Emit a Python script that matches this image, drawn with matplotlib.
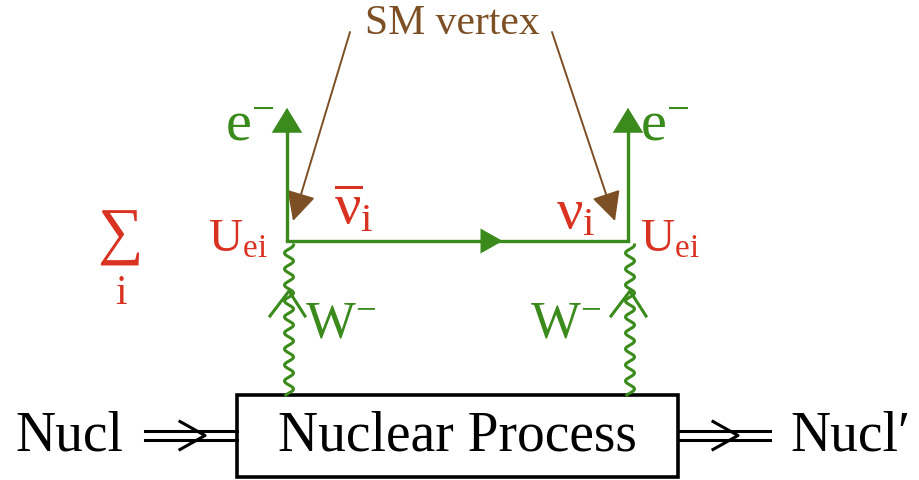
import numpy as np
import matplotlib.pyplot as plt
from matplotlib.patches import Rectangle, FancyArrowPatch

green = '#3a8a1c'
red = '#d93220'
brown = '#7c4f24'
black = '#000000'

plt.rcParams.update({
    'font.family': 'Liberation Serif',
    'mathtext.fontset': 'custom',
    'mathtext.rm': 'Liberation Serif',
    'mathtext.it': 'Liberation Serif',
    'mathtext.bf': 'Liberation Serif',
})

# diagram geometry in pixel units (y grows downwards)
vertex_x = [287, 628]
vertex_y = 242
lepton_top = 106
box = [237, 396, 678, 478]          # left, top, right, bottom
nucl_y = [432, 441]                 # the two rails of the double lines
in_rail = [145, 237]
out_rail = [678, 770]
sm_label = (452, 24)
sm_tips = [(293, 222), (615, 222)]
sm_tails = [(350, 33), (552, 33)]

fig = plt.figure(figsize=(9.2, 4.81), dpi=100)
ax = fig.add_axes([0, 0, 1, 1])
ax.set_xlim(0, 920)
ax.set_ylim(481, 0)
ax.axis('off')

# electron lines with arrowheads
for x in vertex_x:
    ax.plot([x, x], [vertex_y, lepton_top + 18], color=green, lw=2.4,
            solid_capstyle='butt')
    ax.add_patch(FancyArrowPatch((x, lepton_top + 22), (x, lepton_top),
                                 arrowstyle='-|>,head_length=0.9,head_width=0.55',
                                 mutation_scale=20, color=green, lw=0))

# neutrino propagator
ax.plot(vertex_x, [vertex_y, vertex_y], color=green, lw=2.4)
mid = 0.5 * (vertex_x[0] + vertex_x[1]) + 40
ax.add_patch(FancyArrowPatch((mid - 12, vertex_y), (mid + 8, vertex_y),
                             arrowstyle='-|>,head_length=0.8,head_width=0.45',
                             mutation_scale=20, color=green, lw=0))

# W wavy lines
for x in vertex_x:
    yy = np.linspace(vertex_y + 4, box[1], 400)
    xx = x + 2 + 4.5 * np.sin((yy - vertex_y) / 16.0 * 2 * np.pi)
    ax.plot(xx, yy, color=green, lw=2.2)
    ax.plot([x - 17, x + 2, x + 18], [317, 292, 317], color=green, lw=2.2)

# nuclear box
ax.add_patch(Rectangle((box[0], box[1]), box[2] - box[0], box[3] - box[1],
                       fill=False, ec=black, lw=2.6))

# double lines
for rail in (in_rail, out_rail):
    for y in nucl_y:
        ax.plot(rail, [y, y], color=black, lw=2.2)
for tip in (205, 738):
    yc = 0.5 * (nucl_y[0] + nucl_y[1])
    ax.plot([tip - 25, tip, tip - 25], [yc - 14, yc, yc + 14], color=black, lw=2.2)

# SM vertex annotations
ax.text(sm_label[0], sm_label[1], 'SM vertex', color=brown, fontsize=30,
        ha='center', va='center')
for tail, tip in zip(sm_tails, sm_tips):
    ax.add_patch(FancyArrowPatch(tail, tip,
                                 arrowstyle='-|>,head_length=1.0,head_width=0.5',
                                 mutation_scale=18, color=brown, lw=1.4,
                                 shrinkA=0, shrinkB=0))

# labels
ax.text(15, 437, 'Nucl', fontsize=40, ha='left', va='center')
ax.text(457, 437, 'Nuclear Process', fontsize=40, ha='center', va='center')
ax.text(790, 437, 'Nucl\u2032', fontsize=40, ha='left', va='center')

ax.text(250, 126, r'e$^{\mathregular{-}}$', color=green, fontsize=42, ha='center', va='center')
ax.text(665, 126, r'e$^{\mathregular{-}}$', color=green, fontsize=42, ha='center', va='center')

ax.text(238, 240, r'U$_{\mathregular{ei}}$', color=red, fontsize=34, ha='center', va='center')
ax.text(670, 240, r'U$_{\mathregular{ei}}$', color=red, fontsize=34, ha='center', va='center')

ax.text(120, 238, '\u2211', color=red, fontsize=46, ha='center', va='center')
ax.text(121, 294, 'i', color=red, fontsize=30, ha='center', va='center')

ax.text(354, 210, r'$\overline{\nu}_{\mathregular{i}}$', color=red, fontsize=42,
        ha='center', va='center')
ax.text(576, 214, r'$\nu_{\mathregular{i}}$', color=red, fontsize=42,
        ha='center', va='center')

ax.text(341, 325, r'W$^{\mathregular{-}}$', color=green, fontsize=38, ha='center', va='center')
ax.text(566, 325, r'W$^{\mathregular{-}}$', color=green, fontsize=38, ha='center', va='center')

fig.savefig('out.png', dpi=100)
plt.close()
